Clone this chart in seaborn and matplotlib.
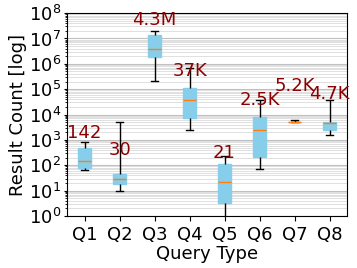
import numpy as np
import pandas as pd
import matplotlib
matplotlib.use("Agg")
import matplotlib.pyplot as plt
import matplotlib.ticker as mticker
import seaborn as sns

# five-number summary per query type
queries = ["Q1", "Q2", "Q3", "Q4", "Q5", "Q6", "Q7", "Q8"]
mins = [65, 10, 2.2e5, 2500, 0.5, 71, 5000, 1550]
q1s = [78, 18, 1.8e6, 7400, 3.2, 204, 5100, 2500]
medians = [147, 30, 4.0e6, 37000, 21, 2450, 5200, 4600]
q3s = [475, 46, 1.35e7, 1.07e5, 112, 8100, 5300, 5100]
maxs = [800, 5200, 2.0e7, 7.0e5, 236, 37000, 5900, 36000]

# median labels and where they sit
labels = ["142", "30", "4.3M", "37K", "21", "2.5K", "5.2K", "4.7K"]
label_y = [1860, 400, 5.2e7, 5e5, 300, 37000, 1.4e5, 6.3e4]

rows = []
for q, a, b, c, d, e in zip(queries, mins, q1s, medians, q3s, maxs):
    for v in (a, b, c, d, e):
        rows.append({"query": q, "count": v})
df = pd.DataFrame(rows)

fig, ax = plt.subplots(figsize=(3.57, 2.68), dpi=100)
fig.subplots_adjust(left=0.188, right=0.972, top=0.951, bottom=0.194)

ax.set_yscale("log")
ax.set_axisbelow(True)
ax.grid(which="major", color="#c0c0c0", linewidth=0.8)
ax.grid(which="minor", axis="y", color="#e0e0e0", linewidth=0.7)

sns.boxplot(data=df, x="query", y="count", order=queries, whis=np.inf,
            width=0.37, color="skyblue", ax=ax,
            boxprops=dict(facecolor="skyblue", edgecolor="skyblue"),
            medianprops=dict(color="#ff7f0e", linewidth=1),
            whiskerprops=dict(color="black", linewidth=1),
            capprops=dict(color="black", linewidth=1))

for i, (t, y) in enumerate(zip(labels, label_y)):
    ax.text(i, y, t, color="#8b0000", fontsize=13, ha="center", va="center")

ax.set_ylim(1, 1e8)
ax.set_xlim(-0.5, 7.5)
ax.yaxis.set_major_locator(mticker.LogLocator(base=10, numticks=20))
ax.yaxis.set_minor_locator(mticker.LogLocator(base=10, subs=np.arange(2, 10), numticks=20))
ax.tick_params(axis="both", labelsize=13)
ax.tick_params(axis="y", which="major", length=2.5, pad=2)
ax.tick_params(axis="y", which="minor", length=1.5)
ax.set_xlabel("Query Type", fontsize=13, labelpad=1)
ax.set_ylabel("Result Count [log]", fontsize=13, labelpad=1)
for s in ax.spines.values():
    s.set_color("black")

fig.savefig("out.png", dpi=100)
